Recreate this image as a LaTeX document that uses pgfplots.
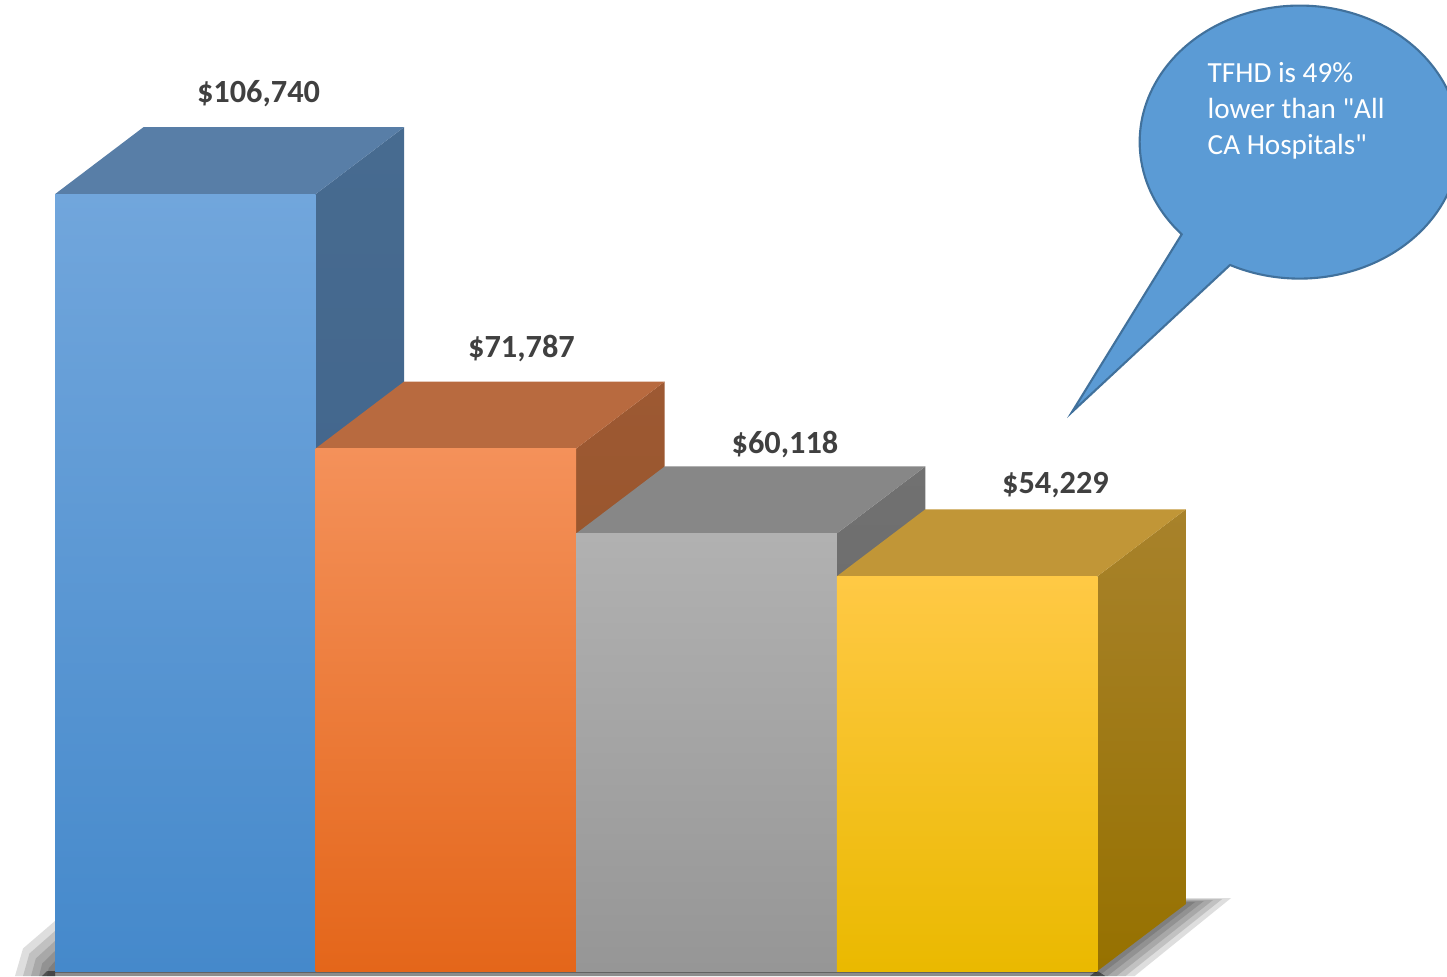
\documentclass[border=0pt]{standalone}
\usepackage{fontspec}
\setmainfont{Carlito}
\newfontfamily\bubfont[Ligatures=TeXOff]{Carlito}
\usepackage{pgfplots}
\pgfplotsset{compat=1.18}

\definecolor{blueT}{HTML}{71A6DC}
\definecolor{blueB}{HTML}{4589CB}
\definecolor{blueTop}{HTML}{587EA7}
\definecolor{blueSideT}{HTML}{476B90}
\definecolor{blueSideB}{HTML}{3E6189}
\definecolor{oraT}{HTML}{F4915A}
\definecolor{oraB}{HTML}{E4661A}
\definecolor{oraTop}{HTML}{B86A3F}
\definecolor{oraSideT}{HTML}{9D5933}
\definecolor{oraSideB}{HTML}{91501F}
\definecolor{grayT}{HTML}{B1B1B1}
\definecolor{grayB}{HTML}{969696}
\definecolor{grayTop}{HTML}{878787}
\definecolor{graySideT}{HTML}{717171}
\definecolor{graySideB}{HTML}{646464}
\definecolor{yelT}{HTML}{FFC945}
\definecolor{yelB}{HTML}{EAB900}
\definecolor{yelTop}{HTML}{C19637}
\definecolor{yelSideT}{HTML}{A8822B}
\definecolor{yelSideB}{HTML}{967100}
\definecolor{lab}{HTML}{404040}
\definecolor{bub}{HTML}{5B9BD5}
\definecolor{bubline}{HTML}{41719C}

\begin{document}
\begin{tikzpicture}
\begin{axis}[
    scale only axis,
    width=144.7mm, height=97.6mm,
    hide axis, clip=false,
    xmin=-0.2111, xmax=5.3415,
    ymin=-687, ymax=133415,
    every axis plot/.append style={mark=none, draw=none},
    shadow/.style={fill=black, opacity=0.13},
]
\coordinate (O) at (rel axis cs:0,0);
\coordinate (NE) at (rel axis cs:1,1);

% floor shadow, right of the last bar
\addplot[shadow] coordinates {(3.972,-687) (4.340,9481) (4.375,9481) (4.005,-687)};
\addplot[shadow] coordinates {(3.972,-687) (4.340,9618) (4.409,9618) (4.039,-687)};
\addplot[shadow] coordinates {(3.972,-687) (4.340,9755) (4.444,9755) (4.074,-687)};
\addplot[shadow] coordinates {(3.972,-687) (4.340,9893) (4.479,9893) (4.108,-687)};
\addplot[shadow] coordinates {(3.972,-687) (4.340,10030) (4.513,10030) (4.143,-687)};
% floor shadow, left of the first bar
\addplot[shadow] coordinates {(0,1374) (-0.0246,344) (-0.0307,-687) (0,-687)};
\addplot[shadow] coordinates {(0,2748) (-0.0491,1031) (-0.0614,-687) (0,-687)};
\addplot[shadow] coordinates {(0,4122) (-0.0737,1718) (-0.0921,-687) (0,-687)};
\addplot[shadow] coordinates {(0,5496) (-0.0982,2405) (-0.1228,-687) (0,-687)};
\addplot[shadow] coordinates {(0,6870) (-0.1228,3092) (-0.1535,-687) (0,-687)};
% strip under the bars
\addplot[fill=black, opacity=0.45] coordinates {(-0.03,0) (4,0) (4.03,-687) (-0.05,-687)};
\addplot[fill=black, opacity=0.30] coordinates {(0,0) (4,0) (4,-300) (0,-300)};

% bar 1
\addplot[top color=blueSideT, bottom color=blueSideB] coordinates {(1,0) (1,106740) (1.3396,115946) (1.3396,9206)};
\addplot[fill=blueTop] coordinates {(0,106740) (1,106740) (1.3396,115946) (0.3396,115946)};
\addplot[ybar, bar width=1, bar shift=0pt, top color=blueT, bottom color=blueB] coordinates {(0.5,106740)};
% bar 2
\addplot[top color=oraSideT, bottom color=oraSideB] coordinates {(2,0) (2,71787) (2.3396,80993) (2.3396,9206)};
\addplot[fill=oraTop] coordinates {(1,71787) (2,71787) (2.3396,80993) (1.3396,80993)};
\addplot[ybar, bar width=1, bar shift=0pt, top color=oraT, bottom color=oraB] coordinates {(1.5,71787)};
% bar 3
\addplot[top color=graySideT, bottom color=graySideB] coordinates {(3,0) (3,60118) (3.3396,69324) (3.3396,9206)};
\addplot[fill=grayTop] coordinates {(2,60118) (3,60118) (3.3396,69324) (2.3396,69324)};
\addplot[ybar, bar width=1, bar shift=0pt, top color=grayT, bottom color=grayB] coordinates {(2.5,60118)};
% bar 4
\addplot[top color=yelSideT, bottom color=yelSideB] coordinates {(4,0) (4,54229) (4.3396,63435) (4.3396,9206)};
\addplot[fill=yelTop] coordinates {(3,54229) (4,54229) (4.3396,63435) (3.3396,63435)};
\addplot[ybar, bar width=1, bar shift=0pt, top color=yelT, bottom color=yelB] coordinates {(3.5,54229)};

% value labels
\addplot[nodes near coords, point meta=explicit symbolic,
    nodes near coords style={anchor=base, text=lab, inner sep=0pt,
        font=\fontsize{9.2}{11}\selectfont\bfseries}]
    coordinates {(0.781,119263)[\$106,740] (1.790,84226)[\$71,787]
                 (2.801,71036)[\$60,118] (3.839,65540)[\$54,229]};
\end{axis}

% callout
\begin{scope}[shift={(O)}, x=0.1mm, y=0.1mm]
\filldraw[fill=bub, draw=bubline, line width=0.6pt]
    (1230,711) arc[start angle=244.2, end angle=582.5, x radius=160, y radius=136.5]
    -- (1072,564) -- cycle;
\begin{scope}[every node/.style={anchor=base west, text=white, inner sep=0pt,
        font=\bubfont\fontsize{8.3}{10}\selectfont}]
\node at (1207,893) {TFHD is 49\%};
\node at (1207,857) {lower than "All};
\node at (1207,821) {CA Hospitals"};
\end{scope}
\end{scope}

\pgfresetboundingbox
\path[use as bounding box] (O) rectangle (NE);
\end{tikzpicture}
\end{document}
